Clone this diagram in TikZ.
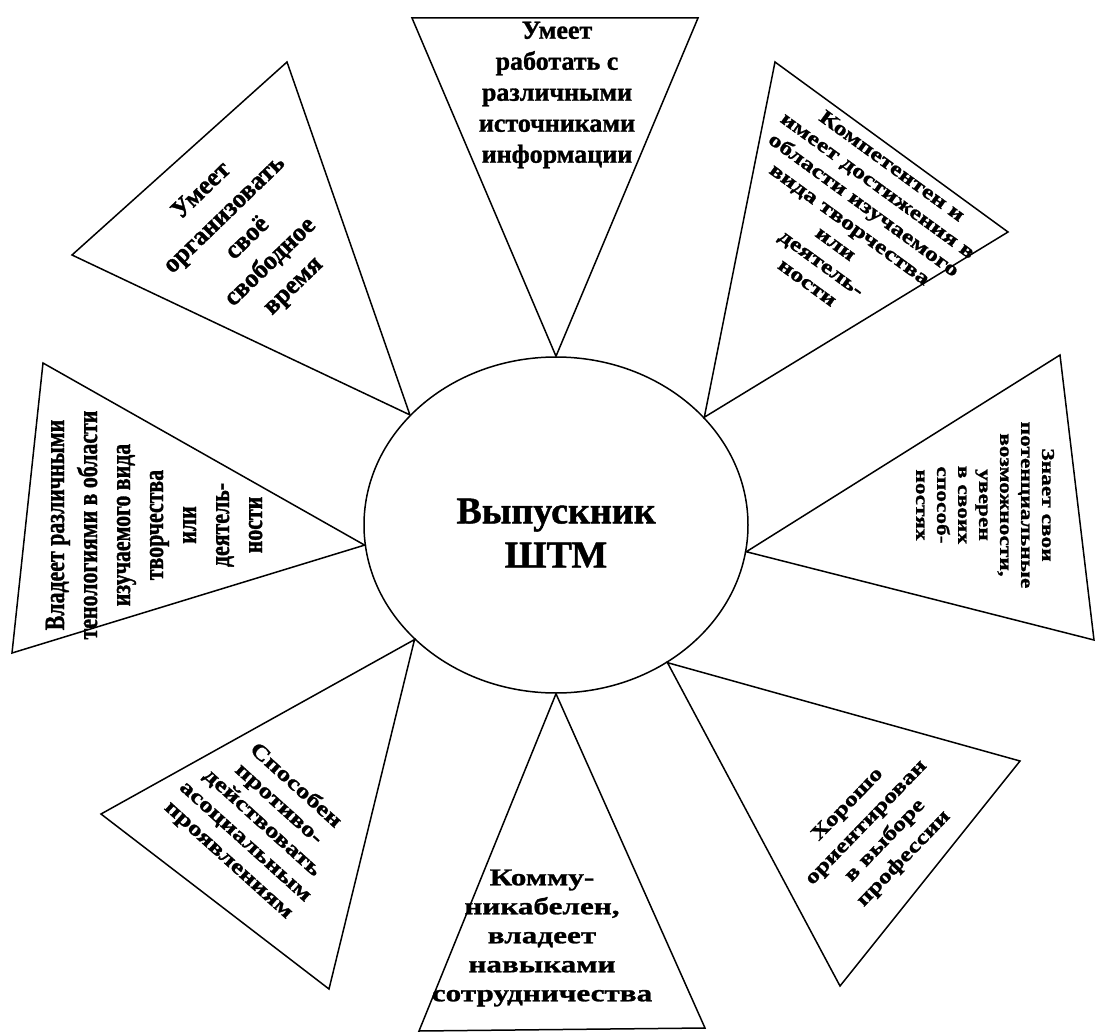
\documentclass[tikz,border=0pt]{standalone}
\usepackage{fontspec}
\setmainfont{Liberation Serif}[BoldFeatures={FakeBold=1.2}]
\newfontfamily\widefont{Liberation Serif}[FakeStretch=1.3, BoldFeatures={FakeBold=1.2}]
\newfontfamily\narrowfont{Liberation Serif}[FakeStretch=0.78, BoldFeatures={FakeBold=1.2}]
\usetikzlibrary{shapes.geometric}

\tikzset{
  ray/.style={draw=black, line width=1.5pt, line join=miter},
  lbl/.style={align=center, inner sep=0pt},
}
\newcommand{\fs}[2]{\bfseries\fontsize{#1}{#2}\selectfont}

\begin{document}
\begin{tikzpicture}[x=1pt, y=-1pt]
    \useasboundingbox (0,0) rectangle (1096,1033);

    \node[ellipse, draw, line width=1.5pt, minimum width=384pt, minimum height=336pt,
      inner sep=0pt] (grad) at (556,525) {};
    \node[lbl, font=\fs{38}{44}] (title) at (556,533) {Выпускник\\ШТМ};

    \draw[ray] (412,18) -- (698,18) -- (grad.90) -- cycle;
    \draw[ray] (287,62) -- (72,255) -- (grad.143) -- cycle;
    \draw[ray] (43,363) -- (12,653) -- (grad.186) -- cycle;
    \draw[ray] (775,62) -- (1008,232) -- (grad.36) -- cycle;
    \draw[ray] (1060,355) -- (1094,640) -- (grad.352) -- cycle;
    \draw[ray] (101,814) -- (329,989) -- (grad.219) -- cycle;
    \draw[ray] (419,1031) -- (705,1028) -- (grad.270) -- cycle;
    \draw[ray] (1020,761) -- (840,986) -- (grad.309) -- cycle;

    \node[lbl, font=\fs{26}{31}] (info) at (557,95)
      {Умеет\\работать с\\различными\\источниками\\информации};
    \node[lbl, font=\fs{26}{33}, rotate=44] (time) at (248,239)
      {Умеет\\организовать\\своё\\свободное\\время};
    \node[lbl, font=\narrowfont\fs{28}{33}, rotate=90] (tech) at (154,525)
      {Владеет различными\\тенологиями в области\\изучаемого вида\\творчества\\или\\деятель-\\ности};
    \node[lbl, font=\widefont\fs{20}{24}, rotate=-36] (comp) at (850,224)
      {Компетентен и\\имеет достижения в\\области изучаемого\\вида творчества\\или\\деятель-\\ности};
    \node[lbl, font=\widefont\fs{18}{21}, rotate=-90] (self) at (985,505)
      {Знает свои\\потенциальные\\возможности,\\уверен\\в своих\\способ-\\ностях};
    \node[lbl, font=\widefont\fs{21}{25}, rotate=-42] (anti) at (262,823)
      {Способен\\противо-\\действовать\\асоциальным\\проявлениям};
    \node[lbl, font=\widefont\fs{24}{29}] (comm) at (542,938)
      {Комму-\\никабелен,\\владеет\\навыками\\сотрудничества};
    \node[lbl, font=\widefont\fs{20}{26}, rotate=46] (prof) at (876,832)
      {Хорошо\\ориентирован\\в выборе\\профессии};
\end{tikzpicture}
\end{document}
